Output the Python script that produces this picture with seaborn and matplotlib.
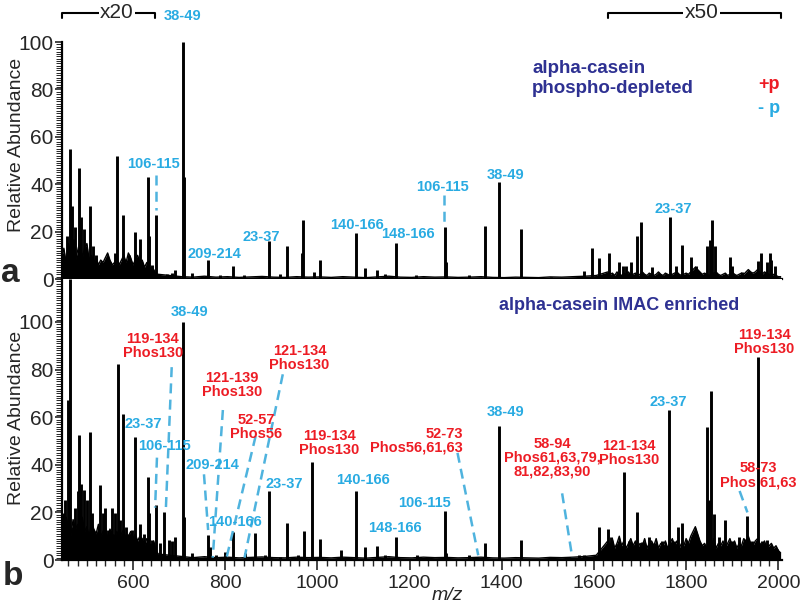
import numpy as np
import pandas as pd
import matplotlib
matplotlib.use("Agg")
import matplotlib.pyplot as plt
from matplotlib.ticker import MultipleLocator
import seaborn as sns

# ---- peak lists (m/z, relative abundance) ----
top_mz = [456, 464, 467, 470, 474, 483, 487, 494, 507, 513, 519, 529, 542, 551, 562, 566, 578,
          587, 591, 604, 615, 632, 635, 641, 650, 673, 684, 691, 707.5, 711, 729, 763, 789, 817,
          840, 895, 918, 934, 966, 968, 993, 1005, 1083, 1103, 1130, 1146, 1171, 1214, 1277.5,
          1280, 1330, 1364, 1393, 1441, 1507, 1578, 1596, 1611, 1632, 1654, 1664, 1670, 1681,
          1693, 1703, 1727, 1764, 1778, 1790, 1810, 1821, 1846, 1851, 1857, 1863, 1896, 1900,
          1921, 1956, 1962, 1975, 1981, 1985, 1993]
top_int = [18, 55, 31, 17, 22, 47, 26, 21, 31, 14, 10, 6, 8, 7, 11, 52, 27,
           7, 10, 20, 17, 43, 18, 6, 27, 2, 2.5, 4, 100, 43, 2.5, 8, 1.5, 5.5,
           1.5, 16, 2, 14, 11, 25, 3, 8, 19.5, 4.5, 4, 2, 15, 1.5, 22,
           7, 1.5, 22.5, 41, 21, 1, 3.5, 13, 9, 11, 7, 5.5, 5.5, 7,
           18, 24, 5, 26, 5.5, 14.5, 9.5, 5.5, 14, 16.5, 25, 14, 9.5, 5.5,
           3, 7.5, 11, 7, 11, 8, 5.5]

bot_mz = [449, 452, 458.6, 464, 469, 475, 480, 483, 488, 494, 501, 507, 511, 518, 528.6, 534,
          539, 546, 554, 561, 567, 572, 578, 585, 590, 597, 604, 615, 623, 632, 635, 641, 650,
          659, 668, 678, 684, 692, 707.5, 711, 728, 763, 768, 780, 799, 817, 844, 864, 886, 895,
          918, 934, 958, 970, 989, 1005, 1052, 1083, 1103, 1130, 1146, 1171, 1217, 1277.5, 1280,
          1330, 1364, 1393, 1441, 1567, 1579, 1611, 1631, 1636, 1650, 1666, 1675, 1693, 1704,
          1719, 1732, 1747, 1763.7, 1773, 1783, 1791, 1801, 1812, 1826, 1845, 1850, 1855, 1860,
          1871, 1884, 1900, 1915, 1932, 1943, 1956, 1964, 1975, 1986, 1997]
bot_int = [19.6, 25, 67, 118, 14, 22, 29, 52.7, 32, 29.6, 25, 53.8, 19.6, 11, 31.5, 19.6,
           22, 12.6, 22, 19.6, 82.5, 16.8, 61.5, 14, 11, 12.6, 51.7, 15, 11, 35, 19.6, 8.4, 23,
           7, 20, 8.4, 8, 9.8, 100, 18, 2.8, 10.5, 5.6, 2, 3.5, 11.6, 2.8, 11.2, 2, 29,
           1.4, 15.7, 2, 12, 41, 9, 4.2, 29, 5.6, 6, 2, 9.5, 2.2, 20.4, 3,
           2, 7, 56.4, 8.4, 2, 2, 14, 13, 9.5, 6.7, 36.8, 8, 20, 7.4,
           9.8, 6.7, 8, 63, 8, 13.7, 15.4, 6.7, 8, 6.7, 56, 25, 71, 19.3,
           9.5, 16.8, 8, 9.5, 18.6, 8, 85.3, 8, 8.4, 5.3, 4.6]

# ---- noise floor, sampled every 5 m/z in the magnified windows, every 25 between ----
top_floor_left = [9, 13, 7, 15, 10, 14, 8, 12, 16, 9, 13, 15, 8, 10, 7, 9, 6, 8, 7, 9, 11,
                  8, 6, 7, 9, 6, 8, 10, 7, 11, 9, 6, 8, 10, 7, 8, 5, 7, 4, 5, 4, 2]
top_floor_mid = [2, 1.5, 1, 0.8, 1.2, 0.8, 1, 0.7, 0.9, 1.1, 0.8, 0.7, 1, 0.8, 0.9, 0.7, 1, 0.8,
                 0.6, 0.9, 1.2, 0.8, 0.7, 1, 0.8, 0.9, 0.7, 0.8, 1, 0.7, 0.6, 0.8, 0.7, 0.6,
                 0.9, 0.8, 1, 1.2, 1.5]
top_floor_right = [3, 2, 2.5, 1.5, 3, 2, 1.5, 2.5, 2, 3, 1.5, 2, 2.5, 1.5, 2, 3, 2, 1.5, 2.5,
                   2, 1.5, 2, 3, 2, 1.5, 2.5, 2, 1.5, 2, 2.5, 3, 2, 1.5, 2, 2.5, 2, 3, 4, 5,
                   4, 3, 2, 2.5, 2, 1.5, 2, 2.5, 3, 2, 1.5, 2, 2.5, 1.5, 2, 3, 2, 1.5, 2, 2.5,
                   2, 3, 4, 3, 2.5, 3, 4, 3, 2, 3, 2.5, 2, 1.5, 2, 1.5, 1, 1]
bot_floor_left = [16, 12, 18, 14, 10, 17, 13, 15, 11, 18, 12, 14, 10, 16, 13, 11, 15, 10, 12, 14,
                  9, 13, 11, 10, 12, 9, 11, 13, 8, 10, 12, 9, 11, 8, 10, 9, 6, 9, 7, 6, 8, 4]
bot_floor_mid = [2.5, 2, 1.5, 1, 1.4, 1, 1.2, 0.9, 1.1, 1.3, 1, 0.9, 1.2, 1, 1.1, 0.9, 1.2, 1,
                 0.8, 1.1, 1.4, 1, 0.9, 1.2, 1, 1.1, 0.9, 1, 1.2, 0.9, 0.8, 1, 0.9, 0.8,
                 1.1, 1, 1.2, 1.5, 2]
bot_floor_right = [8, 6, 9, 5, 7, 10, 6, 8, 5, 7, 9, 6, 8, 5, 7, 6, 9, 5, 7, 8, 6, 9, 5, 7, 6,
                   8, 5, 7, 9, 6, 8, 5, 7, 6, 9, 7, 10, 12, 14, 11, 8, 6, 7, 5, 8, 6, 9, 5, 7,
                   6, 8, 5, 7, 9, 6, 8, 5, 7, 6, 9, 8, 10, 7, 6, 8, 9, 7, 6, 8, 5, 6, 7, 5, 6,
                   4, 3]


def floor_frame(left, mid, right):
    mz = np.concatenate([445 + 5 * np.arange(len(left)),
                         655 + 25 * np.arange(len(mid)),
                         1630 + 5 * np.arange(len(right))])
    return pd.DataFrame({"mz": mz, "abund": np.concatenate([left, mid, right])})


top_floor = floor_frame(top_floor_left, top_floor_mid, top_floor_right)
bot_floor = floor_frame(bot_floor_left, bot_floor_mid, bot_floor_right)

CYAN = "#29abe2"
RED = "#ed1c24"
NAVY = "#2e3192"
DASH = "#4fb3de"

# annotations: (text, m/z, abundance, colour, ha)
top_labels = [
    ("38-49", 708, 111, CYAN, "center"),
    ("106-115", 645, 48.5, CYAN, "center"),
    ("209-214", 777, 10.5, CYAN, "center"),
    ("23-37", 879, 17.7, CYAN, "center"),
    ("140-166", 1087, 23, CYAN, "center"),
    ("148-166", 1197, 19, CYAN, "center"),
    ("106-115", 1271, 39, CYAN, "center"),
    ("38-49", 1409, 44, CYAN, "center"),
    ("23-37", 1773, 29.5, CYAN, "center"),
]
top_dashes = [((650, 44), (650, 29)), ((1275, 35.4), (1275, 23.6))]

bot_labels = [
    ("38-49", 723, 104, CYAN, "center"),
    ("119-134\nPhos130", 643, 90, RED, "center"),
    ("23-37", 622, 57, CYAN, "center"),
    ("106-115", 669, 48, CYAN, "center"),
    ("121-139\nPhos130", 814, 73.5, RED, "center"),
    ("121-134\nPhos130", 961, 85, RED, "center"),
    ("52-57\nPhos56", 868, 56, RED, "center"),
    ("209-214", 773, 40, CYAN, "center"),
    ("140-166", 821, 16, CYAN, "center"),
    ("23-37", 929, 32, CYAN, "center"),
    ("119-134\nPhos130", 1026, 49, RED, "center"),
    ("140-166", 1098, 33.6, CYAN, "center"),
    ("148-166", 1169, 13.4, CYAN, "center"),
    ("106-115", 1232, 24, CYAN, "center"),
    ("52-73\nPhos56,61,63", 1316, 50, RED, "right"),
    ("38-49", 1409, 62, CYAN, "center"),
    ("58-94\nPhos61,63,79,\n81,82,83,90", 1509, 43, RED, "center"),
    ("121-134\nPhos130", 1676, 45, RED, "center"),
    ("23-37", 1762, 66.5, CYAN, "center"),
    ("119-134\nPhos130", 1970, 91.6, RED, "center"),
    ("58-73\nPhos 61,63", 1957, 35.7, RED, "center"),
]
bot_dashes = [((684, 81), (671, 20)), ((652, 43), (648, 22)), ((795, 63), (773, 1)),
              ((925, 78), (842, 1)), ((866, 52), (803, 1)), ((754, 36), (763, 12.6)),
              ((1304, 45), (1349, 2)), ((1531, 28), (1553, 1)), ((1916, 29), (1933, 20))]

sns.set_theme(style="ticks")
plt.rcParams["font.family"] = ["Liberation Sans", "DejaVu Sans"]

fig = plt.figure(figsize=(8, 6.04), dpi=100)
ax_top = fig.add_axes([0.0775, 0.538, 0.9, 0.3924])
ax_bot = fig.add_axes([0.0775, 0.0728, 0.9, 0.4652])


def draw_spectrum(ax, floor, mz, inten, ytop):
    ax.fill_between(floor["mz"], 0, floor["abund"], color="black", lw=0)
    sns.lineplot(data=floor, x="mz", y="abund", ax=ax, color="black", lw=1.0, estimator=None)
    ax.vlines(mz, 0, inten, color="black", lw=2.1)
    ax.set_xlim(446, 2008)
    ax.set_ylim(0, ytop)
    ax.set_ylabel("Relative Abundance", fontsize=14)
    ax.set_yticks(range(0, 101, 20))
    ax.yaxis.set_minor_locator(MultipleLocator(1))
    ax.tick_params(axis="y", which="major", length=5, width=1.2, labelsize=15, pad=1, direction="out")
    ax.tick_params(axis="y", which="minor", length=4, width=0.7, direction="out")
    for s in ["left", "bottom"]:
        ax.spines[s].set_linewidth(1.6)
        ax.spines[s].set_color("black")
    sns.despine(ax=ax)


def draw_labels(ax, labels, dashes):
    for txt, x, y, col, ha in labels:
        ax.text(x, y, txt, color=col, ha=ha, va="center", fontsize=10.5,
                fontweight="bold", linespacing=1.0, clip_on=False)
    for (x0, y0), (x1, y1) in dashes:
        ax.plot([x0, x1], [y0, y1], color=DASH, lw=1.8, ls=(0, (4, 2.5)), clip_on=False)


draw_spectrum(ax_top, top_floor, top_mz, top_int, 100)
draw_spectrum(ax_bot, bot_floor, bot_mz, bot_int, 118)

ax_top.spines["left"].set_bounds(0, 100)
ax_top.set_xticks([])
ax_top.set_xlabel("")
ax_top.yaxis.set_label_coords(-0.051, 0.565)
ax_bot.yaxis.set_label_coords(-0.051, 0.505)

ax_bot.set_xticks(range(600, 2001, 200))
ax_bot.xaxis.set_minor_locator(MultipleLocator(20))
ax_bot.tick_params(axis="x", which="major", length=7, width=1.2, labelsize=14, pad=4)
ax_bot.tick_params(axis="x", which="minor", length=4, width=1.0)
ax_bot.set_xlabel("m/z", fontsize=14, style="italic")
ax_bot.xaxis.set_label_coords(0.535, -0.096)

draw_labels(ax_top, top_labels, top_dashes)
draw_labels(ax_bot, bot_labels, bot_dashes)

# sample titles and legend
ax_top.text(1466, 84.5, "alpha-casein\nphospho-depleted", color=NAVY, ha="left", va="center",
            fontsize=13.5, fontweight="bold", linespacing=1.2)
ax_top.text(2003, 82, "+p", color=RED, ha="right", va="center", fontsize=13, fontweight="bold")
ax_top.text(2003, 72, "- p", color=CYAN, ha="right", va="center", fontsize=13, fontweight="bold")
ax_bot.text(1394, 107, "alpha-casein IMAC enriched", color=NAVY, ha="left", va="center",
            fontsize=13, fontweight="bold")

# magnification brackets
for x0, x1, xt, lab in [(446, 648, 565, "x20"), (1630, 2005, 1834, "x50")]:
    ax_top.plot([x0, x0, x1, x1], [110.3, 112.4, 112.4, 110.3], color="black", lw=1.5,
                clip_on=False)
    ax_top.text(xt, 112.4, lab, ha="center", va="center", fontsize=15,
                bbox=dict(facecolor="white", edgecolor="none", pad=1), clip_on=False)

fig.text(10 / 800, 0.548, "a", fontsize=24, fontweight="bold", ha="center", va="center")
fig.text(13 / 800, 0.045, "b", fontsize=24, fontweight="bold", ha="center", va="center")

fig.savefig("out.png", dpi=100)
